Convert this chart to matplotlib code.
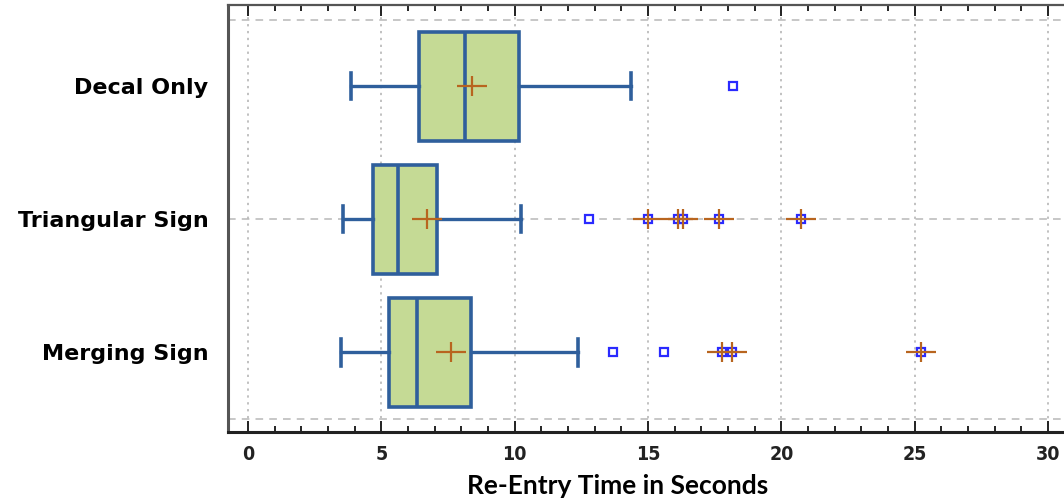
import matplotlib
matplotlib.use("Agg")
from matplotlib import pyplot as plt
from matplotlib.ticker import MultipleLocator

# groups, bottom to top
groups = ["Merging Sign", "Triangular Sign", "Decal Only"]
whisk_lo = [3.49, 3.56, 3.85]
q1 = [5.29, 4.69, 6.41]
median = [6.34, 5.62, 8.14]
q3 = [8.36, 7.09, 10.16]
whisk_hi = [12.37, 10.24, 14.35]
means = [7.61, 6.71, 8.40]

# outside points (blue square) and far outside points (square + cross)
outside = [[13.69, 15.60], [12.79], [18.19]]
far_outside = [[17.77, 18.14, 25.22], [15.01, 16.14, 16.32, 17.67, 20.72], []]

x_ticks = [0, 5, 10, 15, 20, 25, 30]
h_grid = [-0.5, 1.0, 2.5]

box_edge = "#2f5f9c"
box_fill = "#c5da95"
cross_col = "#b8651f"
pt_col = "#2a2aff"


def cross(ax, xs, y, z):
    # wider than tall, like the original plus signs
    ys = [y] * len(xs)
    ax.plot(xs, ys, marker="_", ms=22, mew=1.6, color=cross_col, ls="none", zorder=z)
    ax.plot(xs, ys, marker="|", ms=15, mew=1.6, color=cross_col, ls="none", zorder=z)


fig = plt.figure(figsize=(10.64, 5.01), dpi=100)
ax = fig.add_axes([0.2143, 0.1377, 0.7857, 0.8523])

stats = []
for i in range(len(groups)):
    stats.append({
        "whislo": whisk_lo[i], "q1": q1[i], "med": median[i],
        "q3": q3[i], "whishi": whisk_hi[i], "fliers": [],
    })

ax.bxp(stats, positions=range(len(groups)), vert=False, widths=0.82,
       showfliers=False, patch_artist=True, capwidths=0.2,
       boxprops=dict(facecolor=box_fill, edgecolor=box_edge, linewidth=2.6),
       medianprops=dict(color=box_edge, linewidth=2.6),
       whiskerprops=dict(color=box_edge, linewidth=2.4),
       capprops=dict(color=box_edge, linewidth=2.6), zorder=3)

for i in range(len(groups)):
    cross(ax, [means[i]], i, 5)
    ax.plot(outside[i], [i] * len(outside[i]), marker="s", ms=5.5, mew=1.6,
            mfc="white", mec=pt_col, ls="none", zorder=5)
    if far_outside[i]:
        ax.plot(far_outside[i], [i] * len(far_outside[i]), marker="s", ms=5.5,
                mew=1.6, mfc="white", mec=pt_col, ls="none", zorder=5)
        cross(ax, far_outside[i], i, 6)

for x in x_ticks:
    ax.axvline(x, color="#b0b0b0", lw=1.1, ls=(0, (1.5, 3)), zorder=1)
for y in h_grid:
    ax.axhline(y, color="#b8b8b8", lw=1.1, ls=(0, (5, 4)), zorder=1)

ax.set_xlim(-0.75, 30.6)
ax.set_ylim(-0.6, 2.61)
ax.set_xticks(x_ticks)
ax.xaxis.set_minor_locator(MultipleLocator(1))
ax.set_yticks(range(len(groups)))
ax.set_yticklabels(groups, fontfamily="DejaVu Sans", fontweight="bold",
                   fontsize=16)
ax.set_xticklabels([str(v) for v in x_ticks], fontfamily="DejaVu Sans",
                   fontstretch="condensed", fontweight="bold", fontsize=14)
ax.tick_params(axis="x", which="major", direction="in", length=8, width=1.4,
               top=True, pad=9, colors="#222222")
ax.tick_params(axis="x", which="minor", direction="in", length=4, width=1.2,
               top=True)
ax.tick_params(axis="y", length=0, pad=14)

ax.set_xlabel("Re-Entry Time in Seconds", fontfamily="Lato", fontweight="bold",
              fontsize=19)
ax.xaxis.set_label_coords(0.4665, -0.098)

ax.spines["left"].set_linewidth(2.2)
ax.spines["left"].set_color("#555555")
ax.spines["bottom"].set_linewidth(2.2)
ax.spines["bottom"].set_color("#222222")
ax.spines["top"].set_linewidth(1.6)
ax.spines["top"].set_color("#555555")
ax.spines["right"].set_visible(False)

fig.savefig("out.png", dpi=100)
